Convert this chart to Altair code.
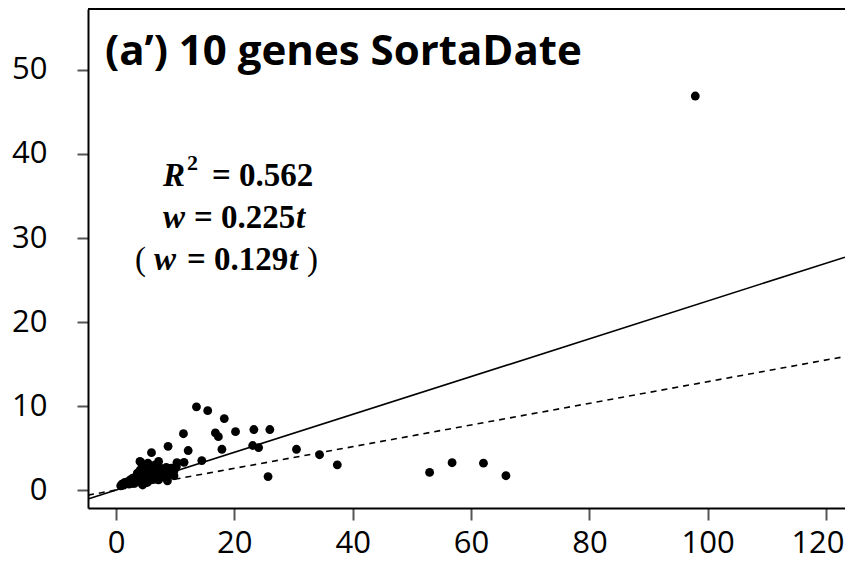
import altair as alt
import pandas as pd

# ---- data ----
t_vals = [13.6, 15.5, 18.3, 11.4, 16.8, 17.3, 20.2, 23.3, 26.0, 8.8, 12.2, 6.0, 17.9, 23.1, 24.1,
          4.05, 10.3, 11.5, 14.5, 25.7, 8.7, 9.8, 30.5, 34.4, 37.4, 53.0, 56.8, 62.1, 65.9, 97.9,
          0.8, 1.0, 1.2, 1.5, 1.7, 2.0, 2.2, 2.4, 2.6, 2.8, 3.0, 3.1, 3.3, 3.5, 3.6, 3.8, 4.0, 4.1,
          4.3, 4.5, 4.6, 4.8, 5.0, 5.2, 5.3, 5.5, 5.7, 5.9, 6.0, 6.2, 6.4, 6.6, 6.8, 7.0, 7.2, 7.5,
          7.8, 8.0, 8.3, 8.5, 9.0, 9.3, 9.8, 10.2, 4.2, 5.1, 5.4, 7.2]
w_vals = [9.9, 9.45, 8.5, 6.7, 6.8, 6.35, 6.95, 7.2, 7.2, 5.2, 4.7, 4.45, 4.85, 5.3, 5.05,
          3.4, 3.25, 3.3, 3.5, 1.6, 1.1, 1.7, 4.85, 4.2, 3.0, 2.1, 3.25, 3.2, 1.7, 46.9,
          0.5, 0.7, 0.6, 0.9, 0.8, 1.0, 0.7, 1.2, 0.9, 1.4, 1.1, 0.8, 1.5, 1.2, 2.0, 1.0, 1.6, 2.4,
          1.3, 0.6, 1.9, 2.6, 1.4, 2.2, 0.9, 1.7, 2.8, 1.2, 2.0, 2.5, 1.5, 3.0, 1.8, 2.3, 1.2, 2.6,
          1.9, 2.2, 1.5, 2.7, 2.0, 2.6, 2.3, 2.8, 3.3, 3.0, 3.2, 3.4]

fit_names = ["fit", "fit_alt"]
fit_slopes = [0.225, 0.129]

x_domain = [-4.73, 123.2]
y_domain = [-2.14, 57.26]
x_ticks = [0, 20, 40, 60, 80, 100, 120]
y_ticks = [0, 10, 20, 30, 40, 50]

W, H = 757, 499

pts = pd.DataFrame({"t": t_vals, "w": w_vals})
lines = pd.DataFrame(
    [{"fit": n, "t": x, "w": s * x} for n, s in zip(fit_names, fit_slopes) for x in x_domain]
)

xs = alt.Scale(domain=x_domain, nice=False, zero=False)
ys = alt.Scale(domain=y_domain, nice=False, zero=False)

x_axis = alt.Axis(values=x_ticks, title=None, grid=False, domainColor="black", domainWidth=2,
                  tickColor="#555555", tickWidth=2, tickSize=12, labelFont="Open Sans",
                  labelFontSize=31, labelColor="black", labelPadding=8, labelFlush=20,
                  labelFlushOffset=18)
y_axis = alt.Axis(values=y_ticks, title=None, grid=False, domainColor="black", domainWidth=2,
                  tickColor="#555555", tickWidth=2, tickSize=11, labelFont="Open Sans",
                  labelFontSize=31, labelColor="black", labelPadding=30, labelFlush=False)

points = alt.Chart(pts).mark_circle(size=78, color="black", opacity=1).encode(
    x=alt.X("t:Q", scale=xs, axis=x_axis),
    y=alt.Y("w:Q", scale=ys, axis=y_axis),
)

solid = alt.Chart(lines).transform_filter(alt.datum.fit == "fit").mark_line(
    color="black", strokeWidth=1.6).encode(x=alt.X("t:Q", scale=xs), y=alt.Y("w:Q", scale=ys))
dashed = alt.Chart(lines).transform_filter(alt.datum.fit == "fit_alt").mark_line(
    color="black", strokeWidth=1.6, strokeDash=[6, 5]).encode(
    x=alt.X("t:Q", scale=xs), y=alt.Y("w:Q", scale=ys))

one = pd.DataFrame({"k": [0]})

top_border = alt.Chart(one).mark_rule(color="black", strokeWidth=2).encode(
    x=alt.value(0), x2=alt.value(W), y=alt.value(0))


def label(text, x, y, size=33, italic=False, font="Liberation Serif", weight="bold"):
    kw = dict(text=text, x=x, y=y, align="left", baseline="alphabetic", font=font,
              fontSize=size, fontWeight=weight, color="black")
    if italic:
        kw["fontStyle"] = "italic"
    return alt.Chart(one).mark_text(**kw)


annots = [
    label("(a\u2019) 10 genes SortaDate", 17, 56, size=42, font="Open Sans"),
    # R^2 = 0.562
    label("R", 75, 177, italic=True),
    label("2", 99, 161, size=22),
    label("= 0.562", 124, 177),
    # w = 0.225t
    label("w", 75, 219, italic=True),
    label("= 0.225", 106, 219),
    label("t", 208, 219, italic=True),
    # ( w = 0.129t )
    label("(", 47, 261, weight="normal"),
    label("w", 66, 261, italic=True),
    label("= 0.129", 99, 261),
    label("t", 201, 261, italic=True),
    label(")", 219, 261, weight="normal"),
]

chart = alt.layer(points, solid, dashed, top_border, *annots).properties(
    width=W, height=H,
    padding={"left": 80, "top": 1, "right": 0, "bottom": 52},
    autosize=alt.AutoSizeParams(type="none"),
    background="white",
).configure_view(stroke="transparent", strokeWidth=0)

chart.save("out.html", embed_options={"renderer": "svg", "actions": False})
